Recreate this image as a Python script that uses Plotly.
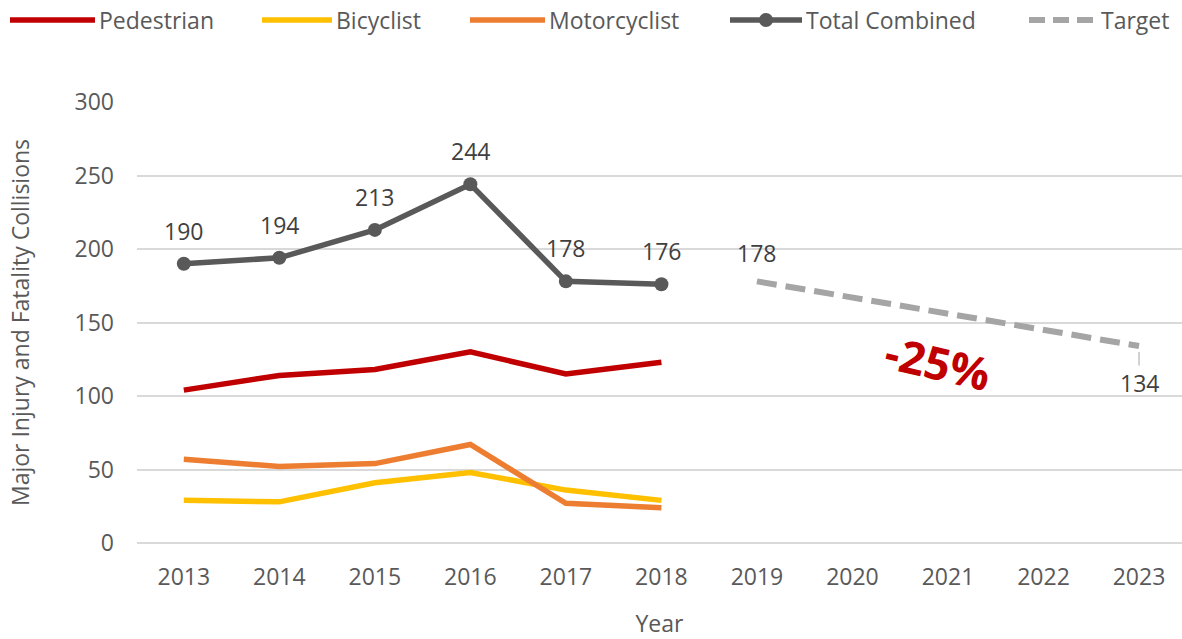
import plotly.graph_objects as go

years = [2013, 2014, 2015, 2016, 2017, 2018]
pedestrian = [104, 114, 118, 130, 115, 123]
bicyclist = [29, 28, 41, 48, 36, 29]
motorcyclist = [57, 52, 54, 67, 27, 24]
total = [190, 194, 213, 244, 178, 176]
target_years = [2019, 2023]
target = [178, 134]
all_years = list(range(2013, 2024))
y_ticks = [0, 50, 100, 150, 200, 250, 300]

FONT = "Open Sans"
TXT = "#595959"
LBL = "#404040"
C_PED = "#C00000"
C_BIC = "#FFC000"
C_MOT = "#ED7D31"
C_TOT = "#595959"
C_TGT = "#A5A5A5"

W, H = 1182, 639
L, R, T, B = 137, 0, 102, 96

fig = go.Figure()
fig.add_trace(go.Scatter(x=years, y=pedestrian, mode="lines", name="Pedestrian",
                         line=dict(color=C_PED, width=5.5)))
fig.add_trace(go.Scatter(x=years, y=bicyclist, mode="lines", name="Bicyclist",
                         line=dict(color=C_BIC, width=5.5)))
fig.add_trace(go.Scatter(x=years, y=motorcyclist, mode="lines", name="Motorcyclist",
                         line=dict(color=C_MOT, width=5.5)))
fig.add_trace(go.Scatter(x=years, y=total, mode="lines+markers", name="Total Combined",
                         line=dict(color=C_TOT, width=5.5),
                         marker=dict(color=C_TOT, size=14)))
fig.add_trace(go.Scatter(x=target_years, y=target, mode="lines", name="Target",
                         line=dict(color=C_TGT, width=6, dash="20px,9px")))

annotations = []
for x, v in zip(years, total):
    annotations.append(dict(x=x, y=v, text=str(v), showarrow=False, yshift=33,
                            font=dict(family=FONT, size=23, color=LBL)))
annotations.append(dict(x=target_years[0], y=target[0], text=str(target[0]), showarrow=False,
                        yshift=28, font=dict(family=FONT, size=23, color=LBL)))
annotations.append(dict(x=target_years[1], y=target[1], text=str(target[1]), showarrow=True,
                        arrowhead=0, arrowwidth=1, arrowcolor=C_TGT, ax=0, ay=37, standoff=6,
                        font=dict(family=FONT, size=23, color=LBL)))
annotations.append(dict(x=2020.9, y=123, text="<b>-25%</b>", showarrow=False, textangle=13,
                        font=dict(family=FONT, size=45, color=C_PED)))

# custom legend (paper coordinates)
pw, ph = W - L - R, H - T - B
def px(xp):
    return (xp - L) / pw
def py(yp):
    return (H - B - yp) / ph

legend_items = [("Pedestrian", C_PED, 10, 95, "solid", False),
                ("Bicyclist", C_BIC, 262, 332, "solid", False),
                ("Motorcyclist", C_MOT, 470, 545, "solid", False),
                ("Total Combined", C_TOT, 730, 802, "solid", True),
                ("Target", C_TGT, 1025, 1097, "dash", False)]
shapes = []
ly = 20
for name, col, x0, x1, dash, mk in legend_items:
    if dash == "solid":
        shapes.append(dict(type="line", xref="paper", yref="paper", x0=px(x0), x1=px(x1),
                           y0=py(ly), y1=py(ly), line=dict(color=col, width=5.5)))
    else:
        seg = (x1 - x0) / 3
        for i in range(3):
            cx = x0 + seg * i + seg / 2
            shapes.append(dict(type="line", xref="paper", yref="paper", x0=px(cx - 8), x1=px(cx + 8),
                               y0=py(ly), y1=py(ly), line=dict(color=col, width=6)))
    if mk:
        cx = (x0 + x1) / 2
        shapes.append(dict(type="circle", xref="paper", yref="paper", x0=px(cx - 7), x1=px(cx + 7),
                           y0=py(ly + 7), y1=py(ly - 7), fillcolor=col, line=dict(color=col, width=0)))
    annotations.append(dict(xref="paper", yref="paper", x=px(x1 + 2), y=py(ly), xanchor="left",
                            yanchor="middle", text=name, showarrow=False,
                            font=dict(family=FONT, size=23, color=TXT)))

fig.update_layout(
    width=W, height=H,
    margin=dict(l=L, r=R, t=T, b=B),
    paper_bgcolor="white", plot_bgcolor="white",
    showlegend=False,
    font=dict(family=FONT, size=23, color=TXT),
    annotations=annotations,
    shapes=shapes,
    xaxis=dict(range=[2012.51, 2023.45], tickmode="array", tickvals=all_years,
               ticktext=[str(y) for y in all_years], showgrid=False, zeroline=False,
               showline=False, ticks="", ticklabelstandoff=18,
               tickfont=dict(family=FONT, size=23, color=TXT),
               title=dict(text="Year", font=dict(family=FONT, size=23, color=TXT), standoff=28)),
    yaxis=dict(range=[0, 300], tickmode="array", tickvals=y_ticks, showgrid=True,
               gridcolor="#D9D9D9", gridwidth=1.5, zeroline=True, zerolinecolor="#D9D9D9",
               zerolinewidth=2, showline=False, ticks="", ticklabelstandoff=22,
               tickfont=dict(family=FONT, size=23, color=TXT),
               title=dict(text="Major Injury and Fatality Collisions",
                          font=dict(family=FONT, size=23, color=TXT), standoff=38)),
)

fig.write_html("out.html", config={"displayModeBar": False},
               post_script="document.body.style.margin='0';")
